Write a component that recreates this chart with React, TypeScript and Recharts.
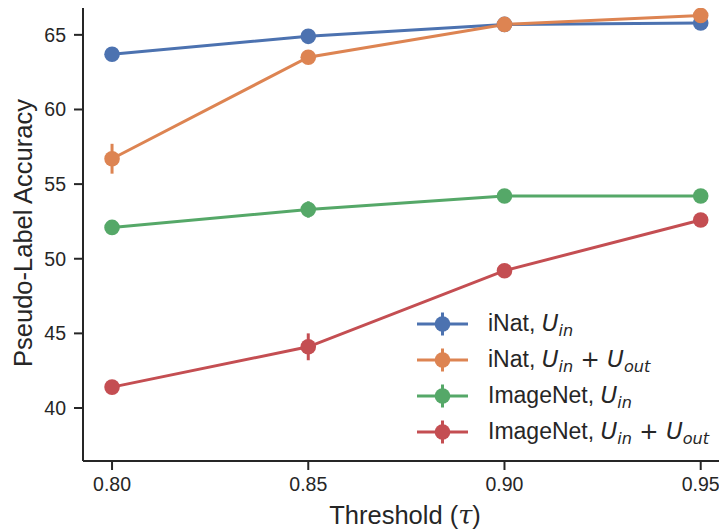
import React from "react";
import { LineChart, Line, XAxis, YAxis, ErrorBar, Legend, Label } from "recharts";

// thresholds on the x axis
const THRESHOLDS = [0.8, 0.85, 0.9, 0.95];
const X_TICKS = [0.8, 0.85, 0.9, 0.95];
const Y_TICKS = [40, 45, 50, 55, 60, 65];

// pseudo-label accuracy
const INAT_IN = [63.7, 64.9, 65.7, 65.8];
const INAT_IN_ERR = [0.1, 0.1, 0.1, 0.1];
const INAT_IN_OUT = [56.7, 63.5, 65.7, 66.3];
const INAT_IN_OUT_ERR = [1.0, 0.3, 0.15, 0.1];
const IMAGENET_IN = [52.1, 53.3, 54.2, 54.2];
const IMAGENET_IN_ERR = [0.1, 0.55, 0.1, 0.1];
const IMAGENET_IN_OUT = [41.4, 44.1, 49.2, 52.6];
const IMAGENET_IN_OUT_ERR = [0.1, 0.9, 0.2, 0.1];

const DATASETS = ["iNat", "iNat", "ImageNet", "ImageNet"];
const WITH_OUT = [false, true, false, true];
const KEYS = ["inatIn", "inatInOut", "imagenetIn", "imagenetInOut"];
const COLORS = ["#4C72B0", "#DD8452", "#55A868", "#C44E52"];

const INK = "#262626";
const MATH = "'DejaVu Sans', sans-serif";

const data = THRESHOLDS.map((t, i) => ({
  t,
  inatIn: INAT_IN[i],
  inatInErr: INAT_IN_ERR[i],
  inatInOut: INAT_IN_OUT[i],
  inatInOutErr: INAT_IN_OUT_ERR[i],
  imagenetIn: IMAGENET_IN[i],
  imagenetInErr: IMAGENET_IN_ERR[i],
  imagenetInOut: IMAGENET_IN_OUT[i],
  imagenetInOutErr: IMAGENET_IN_OUT_ERR[i],
}));

const U = ({ sub }: { sub: string }) => (
  <span style={{ fontFamily: MATH, fontStyle: "italic" }}>
    U
    <span style={{ fontSize: "0.7em", position: "relative", top: "0.35em" }}>{sub}</span>
  </span>
);

const renderLegend = (props: any) => {
  const items = [...(props.payload || [])].sort(
    (a: any, b: any) => KEYS.indexOf(a.dataKey) - KEYS.indexOf(b.dataKey)
  );
  return (
    <div>
      {items.map((entry: any) => {
        const i = KEYS.indexOf(entry.dataKey);
        return (
          <div key={entry.dataKey} style={{ display: "flex", alignItems: "center", height: 36 }}>
            <svg width={51} height={36}>
              <line x1={0} x2={51} y1={18} y2={18} stroke={entry.color} strokeWidth={3} />
              <line x1={25.5} x2={25.5} y1={6.5} y2={29.5} stroke={entry.color} strokeWidth={3} />
              <circle cx={25.5} cy={18} r={7.8} fill={entry.color} />
            </svg>
            <span style={{ marginLeft: 20, fontSize: 23, color: INK, whiteSpace: "nowrap", lineHeight: "36px" }}>
              {DATASETS[i]}, <U sub="in" />
              {WITH_OUT[i] && (
                <>
                  <span style={{ fontFamily: MATH }}> + </span>
                  <U sub="out" />
                </>
              )}
            </span>
          </div>
        );
      })}
    </div>
  );
};

export default function App() {
  const tick = { fill: INK, fontSize: 19.5 };
  return (
    <div style={{ fontFamily: "'Liberation Sans', Arial, sans-serif", marginLeft: -8, marginTop: -8 }}>
      <LineChart width={727} height={532} data={data} margin={{ top: 5, right: 0, left: 0, bottom: 0 }}>
        <XAxis
          dataKey="t" type="number" domain={[0.7926, 0.9567]} ticks={X_TICKS}
          tickFormatter={(v: number) => v.toFixed(2)} allowDataOverflow
          height={71} tick={tick} tickSize={9} tickMargin={7}
          axisLine={{ stroke: INK, strokeWidth: 2 }} tickLine={{ stroke: INK, strokeWidth: 2 }}
        >
          <Label
            content={(p: any) => {
              const vb = p.viewBox;
              return (
                <text x={vb.x + vb.width / 2} y={vb.y + 63} textAnchor="middle" fill={INK} fontSize={25.5}>
                  Threshold (
                  <tspan fontFamily="'DejaVu Serif', serif" fontStyle="italic">τ</tspan>)
                </text>
              );
            }}
          />
        </XAxis>
        <XAxis
          xAxisId="top" orientation="top" dataKey="t" type="number" domain={[0.7926, 0.9567]}
          height={0} tick={false} tickLine={false} axisLine={{ stroke: INK, strokeWidth: 2 }}
        />
        <YAxis
          type="number" domain={[36.45, 67]} ticks={Y_TICKS} allowDataOverflow
          width={83} tick={tick} tickSize={9} tickMargin={8}
          axisLine={{ stroke: INK, strokeWidth: 2 }} tickLine={{ stroke: INK, strokeWidth: 2 }}
        >
          <Label
            content={(p: any) => {
              const vb = p.viewBox;
              const cx = vb.x + 23;
              const cy = vb.y + vb.height / 2;
              return (
                <text x={cx} y={cy} transform={`rotate(-90, ${cx}, ${cy})`} textAnchor="middle"
                  dominantBaseline="central" fill={INK} fontSize={25.5}>
                  Pseudo-Label Accuracy
                </text>
              );
            }}
          />
        </YAxis>
        <Legend
          layout="vertical" align="center" verticalAlign="middle" content={renderLegend}
          wrapperStyle={{ left: 417, top: 306, width: "auto", height: "auto" }}
        />
        {KEYS.map((k, i) => (
          <Line
            key={k} dataKey={k} name={k} type="linear" stroke={COLORS[i]} strokeWidth={3}
            dot={{ r: 7.8, fill: COLORS[i], stroke: "none", strokeWidth: 0 }}
            activeDot={false} isAnimationActive={false}
          >
            <ErrorBar dataKey={k + "Err"} direction="y" width={0} stroke={COLORS[i]} strokeWidth={3} />
          </Line>
        ))}
      </LineChart>
    </div>
  );
}
